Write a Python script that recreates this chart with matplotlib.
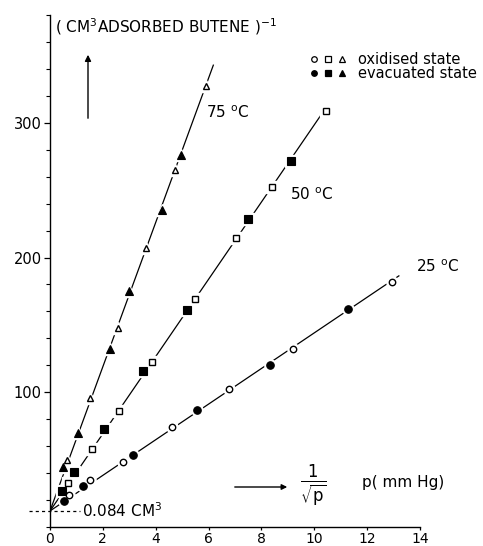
import numpy as np
import matplotlib
matplotlib.use("Agg")
import matplotlib.pyplot as plt
from matplotlib.ticker import MultipleLocator

# ---- data (x = 1/sqrt(p), y = (cm3 adsorbed butene)^-1) ----
x25_ox = [0.73, 1.51, 2.75, 4.63, 6.76, 9.20, 12.95]
y25_ox = [23.8, 34.7, 48.2, 74.0, 102.7, 132.2, 182.0]
x25_ev = [0.53, 1.24, 3.14, 5.57, 8.34, 11.26]
y25_ev = [19.6, 30.3, 53.3, 87.0, 120.6, 161.5]

x50_ox = [0.68, 1.58, 2.61, 3.86, 5.49, 7.02, 8.41, 10.43]
y50_ox = [32.8, 57.8, 86.4, 122.5, 169.5, 214.3, 252.4, 309.0]
x50_ev = [0.45, 0.92, 2.05, 3.53, 5.20, 7.50, 9.13]
y50_ev = [26.5, 41.0, 73.1, 115.8, 161.2, 228.4, 271.6]

x75_ox = [0.64, 1.51, 2.57, 3.62, 4.73, 5.89]
y75_ox = [49.6, 96.0, 148.0, 207.2, 265.0, 327.2]
x75_ev = [0.50, 1.05, 2.27, 3.00, 4.24, 4.94]
y75_ev = [44.5, 70.0, 132.3, 174.8, 235.6, 275.8]

intercept_cm3 = 0.084
line_ends = [13.2, 10.43, 6.18]
temps = ["25", "50", "75"]
x_ticks = [0, 2, 4, 6, 8, 10, 12, 14]
y_ticks = [100, 200, 300]

W, H, DPI = 483, 546, 100
fig = plt.figure(figsize=(W / DPI, H / DPI), dpi=DPI)
ax = fig.add_axes([50 / W, 1 - 527 / H, 370 / W, 512 / H])
ax.set_xlim(0, 14)
ax.set_ylim(0, 380)

for s in ("top", "right"):
    ax.spines[s].set_visible(False)
for s in ("left", "bottom"):
    ax.spines[s].set_linewidth(1.0)

ax.xaxis.set_major_locator(plt.FixedLocator(x_ticks))
ax.yaxis.set_major_locator(plt.FixedLocator(y_ticks))
ax.yaxis.set_minor_locator(MultipleLocator(20))
ax.tick_params(axis="y", which="major", direction="out", length=4, width=0.9,
               labelsize=10.5, pad=2)
ax.tick_params(axis="x", which="major", direction="out", length=2.5, width=0.9,
               labelsize=10, pad=0.8)
ax.tick_params(axis="y", which="minor", direction="out", length=3, width=0.8)
ax.set_xticklabels([str(v) for v in x_ticks])
ax.set_yticklabels([str(v) for v in y_ticks])

b0 = 1.0 / intercept_cm3

series = [
    (x25_ox, y25_ox, x25_ev, y25_ev, "o"),
    (x50_ox, y50_ox, x50_ev, y50_ev, "s"),
    (x75_ox, y75_ox, x75_ev, y75_ev, "^"),
]
for (xo, yo, xe, ye, m), xend in zip(series, line_ends):
    xa = np.array(xo + xe)
    ya = np.array(yo + ye)
    slope = np.sum(xa * (ya - b0)) / np.sum(xa * xa)
    xx = np.array([0.0, xend])
    ax.plot(xx, b0 + slope * xx, color="black", lw=0.9, zorder=2)
    ms = 4.6 if m != "^" else 5.0
    # white halo to break the line around points
    ax.plot(xo + xe, yo + ye, ls="none", marker=m, ms=ms + 3.5, mfc="white",
            mec="white", zorder=3)
    ax.plot(xo, yo, ls="none", marker=m, ms=ms, mfc="white", mec="black",
            mew=1.0, zorder=4)
    ax.plot(xe, ye, ls="none", marker=m, ms=ms + 0.8, mfc="black", mec="black",
            mew=0.8, zorder=4)

# intercept marker line
ax.plot([-0.8, 1.15], [b0, b0], color="black", lw=0.9, ls=(0, (2.5, 2.5)),
        clip_on=False, zorder=1)
ax.text(1.2, b0, r"0.084 CM$^3$", fontsize=11, va="center", ha="left")

# y-axis title and arrow
fig.text(55 / W, 1 - 27 / H, r"( CM$^3$ADSORBED BUTENE )$^{-1}$", fontsize=11,
         va="center", ha="left")
fig.add_artist(matplotlib.patches.FancyArrowPatch(
    (88 / W, 1 - 121 / H), (88 / W, 1 - 52 / H), transform=fig.transFigure,
    arrowstyle="-|>", mutation_scale=9, lw=1.0, color="black"))

# x-axis title
fig.add_artist(matplotlib.patches.FancyArrowPatch(
    (232 / W, 1 - 487 / H), (290 / W, 1 - 487 / H), transform=fig.transFigure,
    arrowstyle="-|>", mutation_scale=8, lw=1.0, color="black"))
fig.text(313 / W, 1 - 486 / H, r"$\frac{1}{\sqrt{\mathrm{p}}}$", fontsize=17,
         va="center", ha="center")
fig.text(362 / W, 1 - 483 / H, "p( mm Hg)", fontsize=11, va="center", ha="left")

# temperature labels
lab_pos = [(416, 267), (290, 195), (206, 113)]
for t, (px, py) in zip(temps, lab_pos):
    fig.text(px / W, 1 - py / H, t + r" $^{\mathrm{o}}$C", fontsize=11,
             va="center", ha="left")

# legend
leg_rows = [("oxidised state", "white", 59), ("evacuated state", "black", 73)]
for label, fc, py in leg_rows:
    for mk, px in zip(["o", "s", "^"], [314, 328, 342]):
        fig.add_artist(matplotlib.lines.Line2D(
            [px / W], [1 - py / H], transform=fig.transFigure, ls="none",
            marker=mk, ms=4.0, mfc=fc, mec="black", mew=0.9))
    fig.text(358 / W, 1 - py / H, label, fontsize=10.5, va="center", ha="left")

fig.savefig("out.png", dpi=DPI)
